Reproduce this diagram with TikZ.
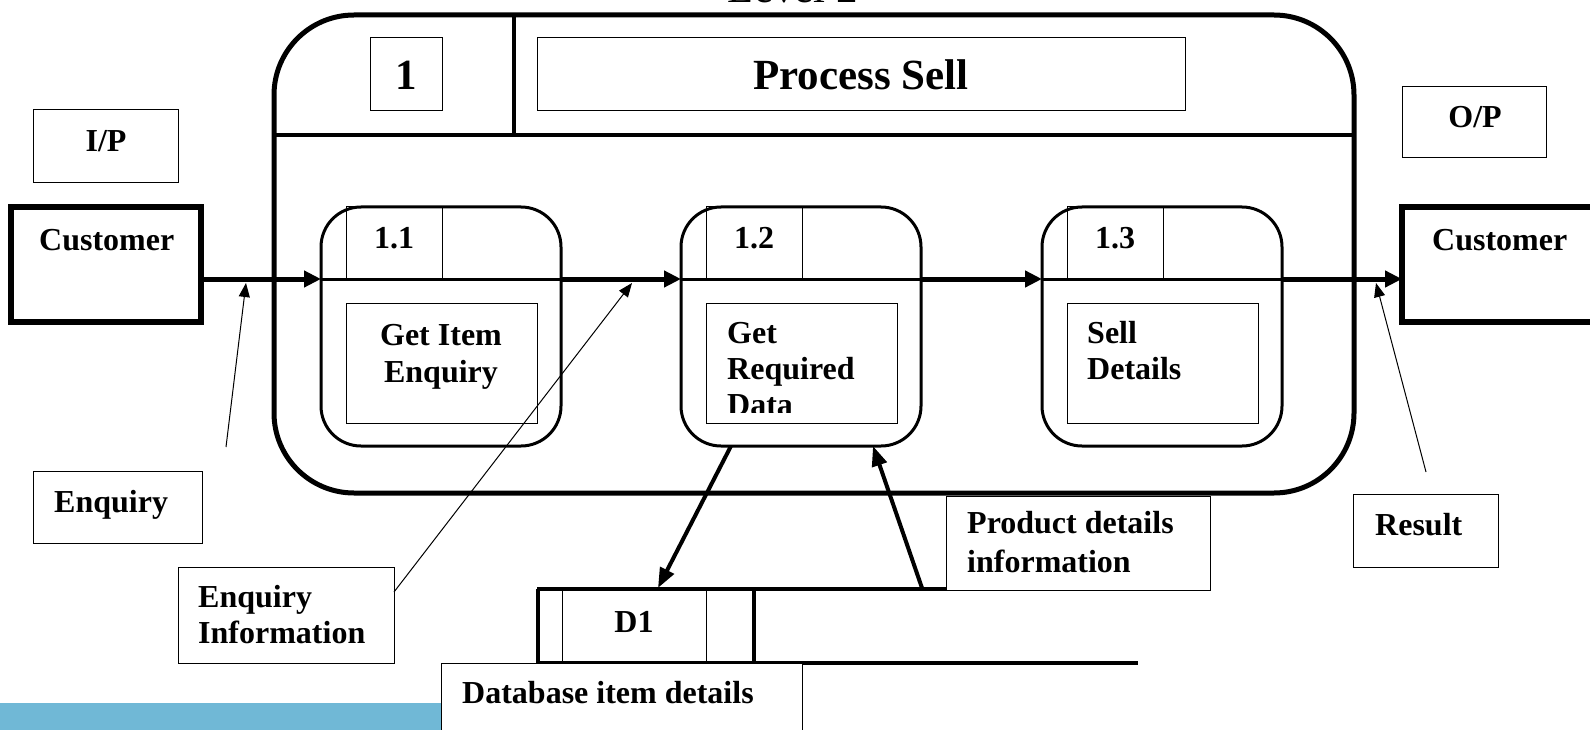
\documentclass[tikz,border=0pt]{standalone}
\usepackage{fontspec}
\setmainfont{Liberation Serif}
\usetikzlibrary{arrows.meta}

\definecolor{barblue}{RGB}{112,184,214}

\tikzset{
	lbox/.style={draw, line width=1pt, fill=white, inner sep=0pt, outer sep=0pt},
	ext/.style={draw, line width=6pt, fill=white, inner sep=0pt, outer sep=0pt},
	proc/.style={draw, line width=3pt, rounded corners=40pt, inner sep=0pt, outer sep=0pt},
	flow/.style={line width=5pt, -{Triangle[length=17pt,width=16pt]}},
	note/.style={line width=1pt, -{Triangle[length=14pt,width=11pt]}},
	store/.style={line width=4pt, -{Triangle[length=20pt,width=15pt]}},
	txt/.style={font=\bfseries\fontsize{32}{37}\selectfont, inner sep=0pt, align=left},
	bigtxt/.style={font=\bfseries\fontsize{43}{48}\selectfont, inner sep=0pt}
}

\begin{document}
\begin{tikzpicture}[x=1pt, y=-1pt]
\useasboundingbox (0,0) rectangle (1590,730);
\clip (0,0) rectangle (1590,730);

\fill[barblue] (0,703) rectangle (441,740);

\node[font=\fontsize{43}{48}\selectfont, inner sep=0pt, anchor=base] (level) at (793,3) {Level 2};

\node[draw, line width=5pt, rounded corners=80pt, minimum width=1080pt, minimum height=478pt, inner sep=0pt, outer sep=0pt] (outer) at (814,254) {};
\draw[line width=4pt] (274,135) -- (1354,135);
\draw[line width=4pt] (514,15) -- (514,135);

\node[lbox, minimum width=72pt, minimum height=73pt] (num) at (406,74.5) {};
\node[bigtxt, anchor=base] (numtxt) at (406,90) {1};
\node[lbox, minimum width=648pt, minimum height=73pt] (sell) at (861,74.5) {};
\node[bigtxt, anchor=base] (selltxt) at (861,90) {Process Sell};

\node[lbox, minimum width=145pt, minimum height=73pt] (ip) at (105.5,146.5) {};
\node[txt, anchor=base] (iptxt) at (106,152) {I/P};
\node[lbox, minimum width=144pt, minimum height=71pt] (op) at (1474,122.5) {};
\node[txt, anchor=base] (optxt) at (1475,128) {O/P};

\node[ext, minimum width=190pt, minimum height=115pt] (cin) at (106,264.5) {};
\node[txt, anchor=base west] (cintxt) at (39,251) {Customer};
\node[ext, minimum width=200pt, minimum height=115pt] (cout) at (1502,264.5) {};
\node[txt, anchor=base west] (couttxt) at (1432,251) {Customer};

\coordinate (fl) at (0,279);

\foreach \n/\x/\pid in {1/321/1.1, 2/681/1.2, 3/1042/1.3} {
	\node[proc, minimum width=240pt, minimum height=239pt] (p\n) at (\x+120,326.5) {};
	\node[lbox, fill=none, minimum width=96pt, minimum height=72pt] (id\n) at (\x+73,243) {};
	\node[lbox, minimum width=191pt, minimum height=120pt] (lb\n) at (\x+120.5,363) {};
	\node[txt, anchor=base] (idtxt\n) at (\x+73,248) {\pid};
	\draw[line width=3pt] (p\n.west |- fl) -- (p\n.east |- fl);
}

\node[txt, align=center, anchor=base] (lbtxt1) at (441,382) {Get Item\\Enquiry};
\begin{scope}
\clip (706,303) rectangle (898,412);
\node[txt, font=\bfseries\fontsize{32}{36}\selectfont, anchor=base west] (lbtxt2) at (727,415) {Get\\Required\\Data};
\end{scope}
\node[txt, font=\bfseries\fontsize{32}{36}\selectfont, anchor=base west] (lbtxt3) at (1087,379) {Sell\\Details};

\draw[flow] (cin.east |- fl) -- (p1.west |- fl);
\draw[flow] (p1.east |- fl) -- (p2.west |- fl);
\draw[flow] (p2.east |- fl) -- (p3.west |- fl);
\draw[flow] (p3.east |- fl) -- (cout.west |- fl);

\node[draw, line width=1pt, inner sep=0pt, outer sep=0pt, minimum width=144pt, minimum height=74pt] (d1) at (634,626) {};
\node[txt, anchor=base] (d1txt) at (634,632) {D1};
\draw[line width=4pt] (537,589) -- (1138,589);
\draw[line width=4pt] (537,663) -- (1138,663);
\foreach \x in {538, 754}
	\draw[line width=4pt] (\x,589) -- (\x,663);

\coordinate (dsin) at (658,588);
\coordinate (dsout) at (922,588);
\draw[store] ([xshift=-70pt]p2.south) -- (dsin);
\draw[store] (dsout) -- ([xshift=72pt]p2.south);

\node[lbox, minimum width=361pt, minimum height=77pt] (dbox) at (621.5,701.5) {};
\node[txt, anchor=base west] (dbtxt) at (462,703) {Database item details};

\node[lbox, minimum width=264pt, minimum height=94pt] (prod) at (1078,543) {};
\node[txt, font=\bfseries\fontsize{32}{39}\selectfont, anchor=base west] (prodtxt) at (967,572) {Product details\\information};

\node[lbox, minimum width=169pt, minimum height=72pt] (enq) at (117.5,507) {};
\node[txt, anchor=base west] (enqtxt) at (54,512) {Enquiry};
\coordinate (enqtail) at (226,447);
\coordinate (enqhead) at (246,283);
\draw[note] (enqtail) -- (enqhead);

\node[lbox, minimum width=216pt, minimum height=96pt] (einfo) at (286,615) {};
\node[txt, font=\bfseries\fontsize{32}{36}\selectfont, anchor=base west] (einfotxt) at (198,643) {Enquiry\\Information};
\coordinate (eihead) at (632,283);
\draw[note] ([yshift=-25pt]einfo.north east) -- (eihead);

\node[lbox, minimum width=145pt, minimum height=73pt] (res) at (1425.5,530.5) {};
\node[txt, anchor=base west] (restxt) at (1375,535) {Result};
\coordinate (restail) at (1426,472);
\coordinate (reshead) at (1376,283);
\draw[note] (restail) -- (reshead);

\end{tikzpicture}
\end{document}
